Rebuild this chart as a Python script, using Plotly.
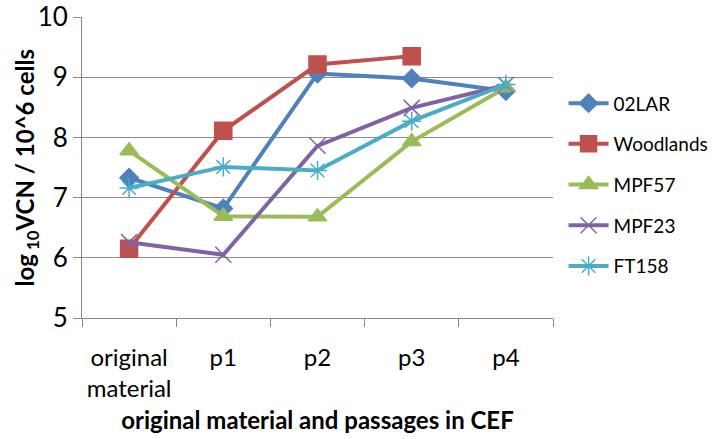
import plotly.graph_objects as go

categories = ["original<br>material", "p1", "p2", "p3", "p4"]
series_names = ["02LAR", "Woodlands", "MPF57", "MPF23", "FT158"]
v_02lar = [7.33, 6.82, 9.06, 8.98, 8.77]
v_woodlands = [6.15, 8.11, 9.21, 9.35, None]
v_mpf57 = [7.78, 6.69, 6.68, 7.93, 8.83]
v_mpf23 = [6.26, 6.05, 7.86, 8.49, 8.87]
v_ft158 = [7.16, 7.51, 7.45, 8.27, 8.88]

values = [v_02lar, v_woodlands, v_mpf57, v_mpf23, v_ft158]
colors = ["#4F81BD", "#C0504D", "#9BBB59", "#8064A2", "#4BACC6"]
symbols = ["diamond", "square", "triangle-up", "x-thin-open", "asterisk-open"]
sizes = [14, 17, 16, 16, 16]

fig = go.Figure()
for i, (name, vals) in enumerate(zip(series_names, values)):
    fig.add_trace(go.Scatter(
        x=categories, y=vals, name=name, mode="lines+markers",
        legendgroup=name,
        line=dict(color=colors[i], width=4),
        marker=dict(symbol=symbols[i], size=sizes[i], color=colors[i],
                    line=dict(color=colors[i], width=1.5)),
        connectgaps=False,
    ))

fig.update_layout(
    width=717, height=439,
    margin=dict(l=82, r=164, t=17, b=121),
    plot_bgcolor="white", paper_bgcolor="white",
    font=dict(family="Lato, Liberation Sans, sans-serif", color="#000000"),
    showlegend=True,
    legend=dict(xref="container", yref="container", x=0.786, xanchor="left",
                y=0.579, yanchor="middle",
                font=dict(size=19), tracegroupgap=13, traceorder="grouped",
                itemwidth=40),
    xaxis=dict(
        type="category", range=[-0.5, 4.5], showgrid=False, showline=True,
        linecolor="#888888", linewidth=1, ticks="outside",
        tickson="boundaries", ticklen=8, tickcolor="#888888", tickangle=0,
        tickfont=dict(size=24), automargin=False, ticklabelstandoff=18,
        title=dict(text="<b>original material and passages in CEF</b>",
                   font=dict(size=24), standoff=11),
    ),
    yaxis=dict(
        range=[5, 10], dtick=1, showgrid=True, gridcolor="#8c8c8c",
        gridwidth=1, showline=True, linecolor="#888888", linewidth=1,
        ticks="outside", ticklen=8, tickcolor="#888888", tickfont=dict(size=26),
        zeroline=False, automargin=False, ticklabeloverflow="allow",
    ),
    annotations=[dict(
        text="<b>log<sub> 10</sub>VCN / 10^6 cells</b>",
        xref="paper", yref="paper", x=-0.117, y=0.5,
        xanchor="center", yanchor="middle", textangle=-90,
        showarrow=False, font=dict(size=24),
    )],
)

fig.write_html("out.html", config={"displayModeBar": False},
               post_script="document.body.style.margin='0';")
